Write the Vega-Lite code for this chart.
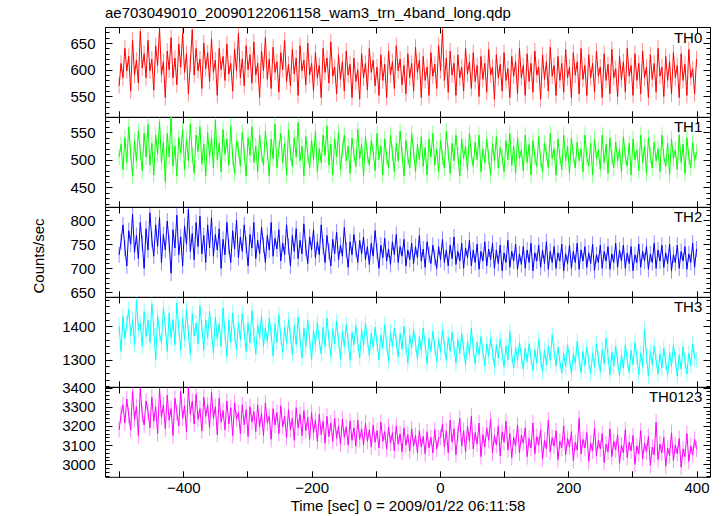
{
"$schema": "https://vega.github.io/schema/vega-lite/v6.json",
"autosize": {"type": "pad"},
"padding": {"left": 31, "top": 6, "right": 0, "bottom": 0},
"background": "white",
"title": {"text": "ae703049010_20090122061158_wam3_trn_4band_long.qdp", "anchor": "start", "frame": "group", "fontSize": 15, "fontWeight": "normal", "color": "black", "font": "Liberation Sans", "baseline": "alphabetic", "offset": -7},
"config": {
  "view": {"stroke": "black", "strokeWidth": 1},
  "font": "Liberation Sans",
  "axis": {"grid": false, "domain": false, "tickColor": "black", "tickWidth": 1, "labelColor": "black", "labelFontSize": 15, "labelFont": "Liberation Sans", "titleFontSize": 15, "titleFontWeight": "normal", "titleColor": "black", "titleFont": "Liberation Sans", "format": "d"}
},
"spacing": 0,
"bounds": "flush",
"data": {"values": [
{"t":-500,"a":570,"b":505,"c":728,"d":1400,"e":3180},
{"t":-497,"a":612,"b":528,"c":755,"d":1325,"e":3260},
{"t":-494,"a":585,"b":482,"c":790,"d":1430,"e":3310},
{"t":-491,"a":640,"b":540,"c":742,"d":1365,"e":3215},
{"t":-488,"a":598,"b":495,"c":705,"d":1410,"e":3340},
{"t":-485,"a":625,"b":560,"c":778,"d":1450,"e":3255},
{"t":-482,"a":560,"b":512,"c":750,"d":1372,"e":3180},
{"t":-479,"a":655,"b":470,"c":812,"d":1420,"e":3380},
{"t":-476,"a":590,"b":535,"c":733,"d":1345,"e":3235},
{"t":-473,"a":618,"b":498,"c":768,"d":1478,"e":3300},
{"t":-470,"a":575,"b":552,"c":720,"d":1390,"e":3150},
{"t":-467,"a":672,"b":515,"c":795,"d":1410,"e":3395},
{"t":-464,"a":603,"b":480,"c":752,"d":1340,"e":3260},
{"t":-461,"a":630,"b":548,"c":700,"d":1445,"e":3205},
{"t":-458,"a":585,"b":505,"c":782,"d":1370,"e":3330},
{"t":-455,"a":655,"b":565,"c":738,"d":1418,"e":3275},
{"t":-452,"a":598,"b":490,"c":815,"d":1352,"e":3190},
{"t":-449,"a":620,"b":530,"c":760,"d":1468,"e":3350},
{"t":-446,"a":562,"b":472,"c":725,"d":1395,"e":3225},
{"t":-443,"a":645,"b":545,"c":790,"d":1300,"e":3300},
{"t":-440,"a":608,"b":510,"c":745,"d":1432,"e":3160},
{"t":-437,"a":678,"b":570,"c":805,"d":1380,"e":3395},
{"t":-434,"a":590,"b":495,"c":712,"d":1350,"e":3245},
{"t":-431,"a":615,"b":532,"c":770,"d":1455,"e":3310},
{"t":-428,"a":548,"b":460,"c":738,"d":1398,"e":3185},
{"t":-425,"a":635,"b":548,"c":798,"d":1325,"e":3360},
{"t":-422,"a":600,"b":505,"c":752,"d":1440,"e":3230},
{"t":-419,"a":660,"b":578,"c":690,"d":1365,"e":3290},
{"t":-416,"a":585,"b":488,"c":780,"d":1420,"e":3150},
{"t":-413,"a":622,"b":525,"c":742,"d":1345,"e":3345},
{"t":-410,"a":572,"b":470,"c":810,"d":1470,"e":3270},
{"t":-407,"a":648,"b":540,"c":728,"d":1392,"e":3200},
{"t":-404,"a":605,"b":512,"c":765,"d":1330,"e":3380},
{"t":-401,"a":668,"b":555,"c":705,"d":1425,"e":3240},
{"t":-398,"a":595,"b":482,"c":788,"d":1360,"e":3305},
{"t":-395,"a":630,"b":538,"c":750,"d":1450,"e":3170},
{"t":-392,"a":555,"b":498,"c":822,"d":1380,"e":3400},
{"t":-389,"a":612,"b":565,"c":735,"d":1315,"e":3260},
{"t":-386,"a":675,"b":508,"c":772,"d":1438,"e":3330},
{"t":-383,"a":590,"b":475,"c":718,"d":1372,"e":3210},
{"t":-380,"a":640,"b":545,"c":795,"d":1410,"e":3365},
{"t":-377,"a":598,"b":515,"c":745,"d":1348,"e":3235},
{"t":-374,"a":620,"b":560,"c":808,"d":1462,"e":3290},
{"t":-371,"a":565,"b":492,"c":730,"d":1395,"e":3175},
{"t":-368,"a":650,"b":528,"c":768,"d":1330,"e":3350},
{"t":-365,"a":602,"b":470,"c":712,"d":1420,"e":3250},
{"t":-362,"a":632,"b":550,"c":790,"d":1365,"e":3310},
{"t":-359,"a":578,"b":505,"c":742,"d":1445,"e":3190},
{"t":-356,"a":658,"b":540,"c":805,"d":1385,"e":3375},
{"t":-353,"a":595,"b":485,"c":725,"d":1320,"e":3240},
{"t":-350,"a":618,"b":572,"c":770,"d":1428,"e":3300},
{"t":-347,"a":552,"b":500,"c":738,"d":1362,"e":3155},
{"t":-344,"a":640,"b":530,"c":782,"d":1408,"e":3345},
{"t":-341,"a":600,"b":478,"c":700,"d":1340,"e":3220},
{"t":-338,"a":625,"b":555,"c":760,"d":1455,"e":3280},
{"t":-335,"a":580,"b":510,"c":728,"d":1378,"e":3180},
{"t":-332,"a":648,"b":538,"c":795,"d":1310,"e":3330},
{"t":-329,"a":592,"b":490,"c":745,"d":1418,"e":3210},
{"t":-326,"a":612,"b":562,"c":712,"d":1352,"e":3295},
{"t":-323,"a":560,"b":505,"c":778,"d":1440,"e":3150},
{"t":-320,"a":638,"b":475,"c":740,"d":1375,"e":3320},
{"t":-317,"a":598,"b":535,"c":800,"d":1330,"e":3235},
{"t":-314,"a":668,"b":518,"c":722,"d":1412,"e":3270},
{"t":-311,"a":585,"b":488,"c":765,"d":1360,"e":3160},
{"t":-308,"a":620,"b":550,"c":735,"d":1438,"e":3310},
{"t":-305,"a":570,"b":512,"c":790,"d":1385,"e":3205},
{"t":-302,"a":645,"b":470,"c":748,"d":1325,"e":3285},
{"t":-299,"a":600,"b":540,"c":705,"d":1410,"e":3145},
{"t":-296,"a":628,"b":508,"c":770,"d":1350,"e":3300},
{"t":-293,"a":575,"b":560,"c":742,"d":1448,"e":3220},
{"t":-290,"a":652,"b":495,"c":795,"d":1372,"e":3275},
{"t":-287,"a":590,"b":525,"c":720,"d":1318,"e":3170},
{"t":-284,"a":612,"b":478,"c":758,"d":1405,"e":3310},
{"t":-281,"a":548,"b":545,"c":730,"d":1365,"e":3195},
{"t":-278,"a":635,"b":510,"c":785,"d":1432,"e":3265},
{"t":-275,"a":598,"b":490,"c":748,"d":1340,"e":3150},
{"t":-272,"a":660,"b":552,"c":712,"d":1395,"e":3320},
{"t":-269,"a":582,"b":515,"c":768,"d":1355,"e":3215},
{"t":-266,"a":620,"b":470,"c":738,"d":1425,"e":3250},
{"t":-263,"a":565,"b":538,"c":795,"d":1378,"e":3130},
{"t":-260,"a":642,"b":502,"c":725,"d":1312,"e":3290},
{"t":-257,"a":595,"b":565,"c":762,"d":1408,"e":3205},
{"t":-254,"a":615,"b":485,"c":740,"d":1352,"e":3270},
{"t":-251,"a":558,"b":520,"c":780,"d":1435,"e":3160},
{"t":-248,"a":632,"b":548,"c":715,"d":1368,"e":3305},
{"t":-245,"a":600,"b":495,"c":752,"d":1322,"e":3195},
{"t":-242,"a":655,"b":530,"c":728,"d":1398,"e":3250},
{"t":-239,"a":578,"b":472,"c":790,"d":1350,"e":3140},
{"t":-236,"a":610,"b":555,"c":745,"d":1420,"e":3285},
{"t":-233,"a":570,"b":512,"c":705,"d":1372,"e":3180},
{"t":-230,"a":638,"b":488,"c":768,"d":1315,"e":3240},
{"t":-227,"a":592,"b":540,"c":735,"d":1402,"e":3125},
{"t":-224,"a":622,"b":505,"c":782,"d":1345,"e":3295},
{"t":-221,"a":552,"b":568,"c":720,"d":1428,"e":3190},
{"t":-218,"a":645,"b":498,"c":758,"d":1362,"e":3260},
{"t":-215,"a":598,"b":525,"c":730,"d":1305,"e":3150},
{"t":-212,"a":618,"b":470,"c":792,"d":1395,"e":3280},
{"t":-209,"a":572,"b":542,"c":742,"d":1340,"e":3175},
{"t":-206,"a":650,"b":510,"c":710,"d":1418,"e":3245},
{"t":-203,"a":590,"b":485,"c":765,"d":1358,"e":3130},
{"t":-200,"a":612,"b":535,"c":738,"d":1300,"e":3270},
{"t":-197,"a":560,"b":500,"c":780,"d":1388,"e":3165},
{"t":-194,"a":632,"b":552,"c":722,"d":1345,"e":3230},
{"t":-191,"a":585,"b":478,"c":755,"d":1412,"e":3120},
{"t":-188,"a":608,"b":520,"c":728,"d":1355,"e":3260},
{"t":-185,"a":548,"b":495,"c":790,"d":1318,"e":3155},
{"t":-182,"a":640,"b":545,"c":745,"d":1398,"e":3225},
{"t":-179,"a":595,"b":508,"c":712,"d":1340,"e":3110},
{"t":-176,"a":622,"b":562,"c":768,"d":1425,"e":3250},
{"t":-173,"a":575,"b":490,"c":735,"d":1362,"e":3145},
{"t":-170,"a":652,"b":528,"c":705,"d":1310,"e":3215},
{"t":-167,"a":588,"b":472,"c":760,"d":1392,"e":3120},
{"t":-164,"a":605,"b":538,"c":730,"d":1348,"e":3240},
{"t":-161,"a":555,"b":505,"c":775,"d":1415,"e":3135},
{"t":-158,"a":628,"b":550,"c":718,"d":1358,"e":3200},
{"t":-155,"a":582,"b":482,"c":748,"d":1302,"e":3105},
{"t":-152,"a":615,"b":518,"c":725,"d":1385,"e":3235},
{"t":-149,"a":560,"b":545,"c":785,"d":1340,"e":3140},
{"t":-146,"a":635,"b":498,"c":738,"d":1405,"e":3195},
{"t":-143,"a":590,"b":525,"c":702,"d":1355,"e":3100},
{"t":-140,"a":610,"b":475,"c":755,"d":1298,"e":3225},
{"t":-137,"a":548,"b":540,"c":728,"d":1382,"e":3125},
{"t":-134,"a":622,"b":510,"c":770,"d":1345,"e":3190},
{"t":-131,"a":578,"b":488,"c":740,"d":1402,"e":3095},
{"t":-128,"a":600,"b":555,"c":712,"d":1350,"e":3230},
{"t":-125,"a":545,"b":502,"c":758,"d":1305,"e":3130},
{"t":-122,"a":630,"b":528,"c":730,"d":1390,"e":3185},
{"t":-119,"a":585,"b":470,"c":765,"d":1342,"e":3100},
{"t":-116,"a":612,"b":542,"c":718,"d":1410,"e":3215},
{"t":-113,"a":562,"b":508,"c":745,"d":1360,"e":3120},
{"t":-110,"a":640,"b":490,"c":708,"d":1312,"e":3180},
{"t":-107,"a":595,"b":535,"c":752,"d":1380,"e":3090},
{"t":-104,"a":618,"b":515,"c":725,"d":1338,"e":3205},
{"t":-101,"a":570,"b":480,"c":778,"d":1398,"e":3115},
{"t":-98,"a":605,"b":548,"c":735,"d":1350,"e":3175},
{"t":-95,"a":552,"b":500,"c":700,"d":1300,"e":3085},
{"t":-92,"a":628,"b":525,"c":748,"d":1375,"e":3220},
{"t":-89,"a":580,"b":472,"c":722,"d":1335,"e":3120},
{"t":-86,"a":610,"b":538,"c":762,"d":1405,"e":3170},
{"t":-83,"a":548,"b":505,"c":715,"d":1348,"e":3080},
{"t":-80,"a":635,"b":485,"c":740,"d":1295,"e":3195},
{"t":-77,"a":590,"b":545,"c":708,"d":1382,"e":3110},
{"t":-74,"a":615,"b":512,"c":755,"d":1340,"e":3165},
{"t":-71,"a":565,"b":478,"c":728,"d":1395,"e":3070},
{"t":-68,"a":645,"b":530,"c":770,"d":1355,"e":3200},
{"t":-65,"a":598,"b":498,"c":712,"d":1308,"e":3105},
{"t":-62,"a":620,"b":552,"c":745,"d":1378,"e":3160},
{"t":-59,"a":572,"b":510,"c":725,"d":1332,"e":3065},
{"t":-56,"a":608,"b":470,"c":760,"d":1400,"e":3190},
{"t":-53,"a":555,"b":535,"c":705,"d":1345,"e":3100},
{"t":-50,"a":630,"b":505,"c":738,"d":1290,"e":3155},
{"t":-47,"a":585,"b":485,"c":718,"d":1372,"e":3070},
{"t":-44,"a":612,"b":548,"c":752,"d":1335,"e":3185},
{"t":-41,"a":560,"b":515,"c":710,"d":1390,"e":3095},
{"t":-38,"a":642,"b":478,"c":745,"d":1348,"e":3150},
{"t":-35,"a":595,"b":528,"c":722,"d":1302,"e":3060},
{"t":-32,"a":618,"b":500,"c":768,"d":1370,"e":3175},
{"t":-29,"a":548,"b":542,"c":715,"d":1328,"e":3090},
{"t":-26,"a":625,"b":488,"c":740,"d":1395,"e":3145},
{"t":-23,"a":580,"b":522,"c":702,"d":1345,"e":3055},
{"t":-20,"a":605,"b":472,"c":755,"d":1288,"e":3170},
{"t":-17,"a":552,"b":538,"c":728,"d":1365,"e":3085},
{"t":-14,"a":632,"b":505,"c":710,"d":1325,"e":3140},
{"t":-11,"a":588,"b":548,"c":748,"d":1385,"e":3060},
{"t":-8,"a":610,"b":490,"c":722,"d":1338,"e":3180},
{"t":-5,"a":565,"b":520,"c":700,"d":1295,"e":3080},
{"t":-2,"a":645,"b":478,"c":745,"d":1362,"e":3135},
{"t":1,"a":598,"b":535,"c":718,"d":1322,"e":3140},
{"t":4,"a":675,"b":505,"c":760,"d":1390,"e":3210},
{"t":7,"a":580,"b":485,"c":712,"d":1340,"e":3090},
{"t":10,"a":622,"b":552,"c":738,"d":1298,"e":3175},
{"t":13,"a":558,"b":512,"c":705,"d":1368,"e":3060},
{"t":16,"a":635,"b":475,"c":748,"d":1325,"e":3230},
{"t":19,"a":590,"b":530,"c":720,"d":1382,"e":3115},
{"t":22,"a":612,"b":498,"c":765,"d":1335,"e":3185},
{"t":25,"a":552,"b":545,"c":708,"d":1290,"e":3050},
{"t":28,"a":628,"b":508,"c":735,"d":1360,"e":3160},
{"t":31,"a":585,"b":470,"c":715,"d":1318,"e":3240},
{"t":34,"a":605,"b":538,"c":752,"d":1378,"e":3095},
{"t":37,"a":560,"b":502,"c":700,"d":1332,"e":3175},
{"t":40,"a":640,"b":525,"c":742,"d":1285,"e":3065},
{"t":43,"a":592,"b":480,"c":722,"d":1355,"e":3200},
{"t":46,"a":615,"b":548,"c":758,"d":1318,"e":3120},
{"t":49,"a":565,"b":510,"c":705,"d":1395,"e":3250},
{"t":52,"a":632,"b":488,"c":738,"d":1330,"e":3080},
{"t":55,"a":578,"b":532,"c":712,"d":1288,"e":3165},
{"t":58,"a":608,"b":500,"c":750,"d":1352,"e":3105},
{"t":61,"a":550,"b":545,"c":698,"d":1315,"e":3215},
{"t":64,"a":625,"b":478,"c":735,"d":1370,"e":3040},
{"t":67,"a":582,"b":520,"c":715,"d":1325,"e":3155},
{"t":70,"a":612,"b":495,"c":755,"d":1282,"e":3090},
{"t":73,"a":558,"b":538,"c":705,"d":1348,"e":3190},
{"t":76,"a":638,"b":505,"c":740,"d":1310,"e":3125},
{"t":79,"a":590,"b":472,"c":718,"d":1365,"e":3235},
{"t":82,"a":605,"b":530,"c":752,"d":1322,"e":3060},
{"t":85,"a":545,"b":498,"c":700,"d":1280,"e":3150},
{"t":88,"a":628,"b":542,"c":738,"d":1345,"e":3100},
{"t":91,"a":585,"b":485,"c":710,"d":1305,"e":3200},
{"t":94,"a":610,"b":522,"c":748,"d":1362,"e":3045},
{"t":97,"a":560,"b":505,"c":695,"d":1318,"e":3170},
{"t":100,"a":632,"b":478,"c":732,"d":1278,"e":3115},
{"t":103,"a":580,"b":535,"c":712,"d":1342,"e":3225},
{"t":106,"a":602,"b":500,"c":758,"d":1300,"e":3075},
{"t":109,"a":548,"b":548,"c":702,"d":1385,"e":3160},
{"t":112,"a":625,"b":490,"c":735,"d":1315,"e":3035},
{"t":115,"a":588,"b":525,"c":715,"d":1275,"e":3140},
{"t":118,"a":615,"b":475,"c":750,"d":1338,"e":3095},
{"t":121,"a":555,"b":540,"c":698,"d":1298,"e":3205},
{"t":124,"a":640,"b":502,"c":730,"d":1352,"e":3060},
{"t":127,"a":585,"b":518,"c":708,"d":1310,"e":3150},
{"t":130,"a":608,"b":480,"c":745,"d":1272,"e":3110},
{"t":133,"a":552,"b":545,"c":700,"d":1335,"e":3190},
{"t":136,"a":630,"b":495,"c":738,"d":1295,"e":3040},
{"t":139,"a":578,"b":528,"c":712,"d":1348,"e":3135},
{"t":142,"a":612,"b":472,"c":752,"d":1305,"e":3085},
{"t":145,"a":558,"b":535,"c":695,"d":1268,"e":3215},
{"t":148,"a":635,"b":505,"c":732,"d":1330,"e":3055},
{"t":151,"a":590,"b":488,"c":715,"d":1290,"e":3145},
{"t":154,"a":605,"b":542,"c":748,"d":1362,"e":3100},
{"t":157,"a":545,"b":500,"c":702,"d":1302,"e":3180},
{"t":160,"a":628,"b":478,"c":738,"d":1265,"e":3030},
{"t":163,"a":582,"b":530,"c":710,"d":1328,"e":3125},
{"t":166,"a":615,"b":512,"c":755,"d":1285,"e":3080},
{"t":169,"a":560,"b":485,"c":698,"d":1340,"e":3230},
{"t":172,"a":642,"b":548,"c":735,"d":1298,"e":3065},
{"t":175,"a":588,"b":502,"c":712,"d":1375,"e":3140},
{"t":178,"a":608,"b":520,"c":745,"d":1325,"e":3095},
{"t":181,"a":552,"b":472,"c":700,"d":1282,"e":3175},
{"t":184,"a":625,"b":538,"c":732,"d":1338,"e":3025},
{"t":187,"a":580,"b":505,"c":715,"d":1295,"e":3120},
{"t":190,"a":612,"b":482,"c":750,"d":1260,"e":3085},
{"t":193,"a":558,"b":545,"c":695,"d":1320,"e":3200},
{"t":196,"a":638,"b":498,"c":730,"d":1278,"e":3050},
{"t":199,"a":585,"b":525,"c":710,"d":1345,"e":3135},
{"t":202,"a":605,"b":475,"c":748,"d":1305,"e":3090},
{"t":205,"a":548,"b":540,"c":700,"d":1258,"e":3170},
{"t":208,"a":632,"b":508,"c":735,"d":1318,"e":3020},
{"t":211,"a":590,"b":485,"c":712,"d":1290,"e":3115},
{"t":214,"a":615,"b":532,"c":752,"d":1355,"e":3075},
{"t":217,"a":555,"b":498,"c":698,"d":1300,"e":3240},
{"t":220,"a":640,"b":520,"c":738,"d":1262,"e":3055},
{"t":223,"a":582,"b":478,"c":715,"d":1325,"e":3130},
{"t":226,"a":608,"b":545,"c":745,"d":1282,"e":3085},
{"t":229,"a":552,"b":505,"c":702,"d":1338,"e":3165},
{"t":232,"a":628,"b":488,"c":732,"d":1295,"e":3015},
{"t":235,"a":585,"b":530,"c":710,"d":1258,"e":3110},
{"t":238,"a":612,"b":472,"c":750,"d":1320,"e":3070},
{"t":241,"a":558,"b":538,"c":695,"d":1278,"e":3190},
{"t":244,"a":635,"b":502,"c":728,"d":1348,"e":3045},
{"t":247,"a":588,"b":518,"c":712,"d":1302,"e":3125},
{"t":250,"a":605,"b":482,"c":748,"d":1265,"e":3080},
{"t":253,"a":548,"b":545,"c":700,"d":1330,"e":3160},
{"t":256,"a":630,"b":495,"c":735,"d":1288,"e":3010},
{"t":259,"a":580,"b":528,"c":715,"d":1365,"e":3105},
{"t":262,"a":610,"b":475,"c":745,"d":1312,"e":3065},
{"t":265,"a":555,"b":540,"c":698,"d":1255,"e":3185},
{"t":268,"a":638,"b":505,"c":730,"d":1322,"e":3040},
{"t":271,"a":585,"b":485,"c":712,"d":1280,"e":3120},
{"t":274,"a":602,"b":532,"c":752,"d":1340,"e":3075},
{"t":277,"a":550,"b":498,"c":702,"d":1295,"e":3155},
{"t":280,"a":625,"b":520,"c":738,"d":1252,"e":3005},
{"t":283,"a":582,"b":478,"c":715,"d":1315,"e":3100},
{"t":286,"a":615,"b":542,"c":748,"d":1275,"e":3060},
{"t":289,"a":558,"b":505,"c":700,"d":1345,"e":3180},
{"t":292,"a":640,"b":488,"c":732,"d":1300,"e":3035},
{"t":295,"a":588,"b":530,"c":710,"d":1262,"e":3115},
{"t":298,"a":608,"b":472,"c":745,"d":1328,"e":3070},
{"t":301,"a":552,"b":538,"c":695,"d":1285,"e":3150},
{"t":304,"a":630,"b":500,"c":728,"d":1352,"e":3000},
{"t":307,"a":580,"b":518,"c":712,"d":1308,"e":3095},
{"t":310,"a":612,"b":480,"c":750,"d":1255,"e":3055},
{"t":313,"a":555,"b":545,"c":702,"d":1320,"e":3175},
{"t":316,"a":635,"b":495,"c":735,"d":1280,"e":3030},
{"t":319,"a":585,"b":525,"c":715,"d":1390,"e":3110},
{"t":322,"a":605,"b":475,"c":745,"d":1312,"e":3065},
{"t":325,"a":548,"b":540,"c":698,"d":1250,"e":3145},
{"t":328,"a":628,"b":508,"c":730,"d":1325,"e":2995},
{"t":331,"a":582,"b":485,"c":712,"d":1285,"e":3090},
{"t":334,"a":612,"b":532,"c":752,"d":1342,"e":3050},
{"t":337,"a":558,"b":498,"c":700,"d":1298,"e":3220},
{"t":340,"a":640,"b":520,"c":738,"d":1258,"e":3025},
{"t":343,"a":588,"b":478,"c":715,"d":1318,"e":3105},
{"t":346,"a":605,"b":545,"c":748,"d":1275,"e":3060},
{"t":349,"a":550,"b":505,"c":702,"d":1335,"e":3140},
{"t":352,"a":625,"b":488,"c":732,"d":1292,"e":2990},
{"t":355,"a":580,"b":530,"c":710,"d":1255,"e":3085},
{"t":358,"a":615,"b":472,"c":750,"d":1322,"e":3045},
{"t":361,"a":555,"b":538,"c":695,"d":1280,"e":3165},
{"t":364,"a":632,"b":502,"c":728,"d":1345,"e":3020},
{"t":367,"a":585,"b":518,"c":712,"d":1300,"e":3100},
{"t":370,"a":608,"b":482,"c":748,"d":1250,"e":3055},
{"t":373,"a":548,"b":545,"c":700,"d":1315,"e":3135},
{"t":376,"a":630,"b":495,"c":735,"d":1272,"e":2985},
{"t":379,"a":580,"b":528,"c":715,"d":1338,"e":3080},
{"t":382,"a":610,"b":475,"c":745,"d":1295,"e":3040},
{"t":385,"a":552,"b":540,"c":698,"d":1258,"e":3160},
{"t":388,"a":638,"b":505,"c":730,"d":1320,"e":3015},
{"t":391,"a":585,"b":485,"c":712,"d":1282,"e":3095},
{"t":394,"a":602,"b":532,"c":752,"d":1348,"e":3050},
{"t":397,"a":555,"b":498,"c":702,"d":1305,"e":3130},
{"t":400,"a":620,"b":515,"c":740,"d":1300,"e":3080}
]},
"vconcat": [
{
  "width": 605, "height": 89.8,
  "resolve": {"axis": {"x": "independent", "y": "independent"}},
  "layer": [
    {"mark": {"type": "rule", "color": "#ff0000", "opacity": 0.45, "strokeWidth": 1, "yOffset": -8, "y2Offset": 8, "clip": true},
     "encoding": {
       "x": {"field": "t", "type": "quantitative", "scale": {"domain": [-522, 421], "nice": false, "zero": false}, "axis": null},
       "y": {"field": "a", "type": "quantitative", "scale": {"domain": [512, 680], "nice": false, "zero": false}, "axis": null},
       "y2": {"field": "a"}}},
    {"mark": {"type": "line", "color": "#ff0000", "strokeWidth": 1, "clip": true},
     "encoding": {
       "x": {"field": "t", "type": "quantitative", "scale": {"domain": [-522, 421], "nice": false, "zero": false}, "axis": null},
       "y": {"field": "a", "type": "quantitative", "scale": {"domain": [512, 680], "nice": false, "zero": false}, "axis": {"orient": "left", "values": [550, 600, 650], "ticks": false, "labelPadding": 10, "title": null}}}},
    {"data": {"values": [{}]}, "mark": {"type": "point", "opacity": 0},
     "encoding": {
       "x": {"datum": 0, "type": "quantitative", "scale": {"domain": [-522, 421], "nice": false, "zero": false}, "axis": {"orient": "bottom", "labels": false, "tickSize": -6, "values": [-500, -400, -300, -200, -100, 0, 100, 200, 300, 400], "title": null}},
       "y": {"datum": 600, "type": "quantitative", "scale": {"domain": [512, 680], "nice": false, "zero": false}, "axis": {"orient": "left", "labels": false, "tickSize": -7, "values": [550, 600, 650], "title": null}}}},
    {"data": {"values": [{}]}, "mark": {"type": "point", "opacity": 0},
     "encoding": {
       "x": {"datum": 0, "type": "quantitative", "scale": {"domain": [-522, 421], "nice": false, "zero": false}, "axis": {"orient": "top", "labels": false, "tickSize": -6, "values": [-500, -400, -300, -200, -100, 0, 100, 200, 300, 400], "title": null}},
       "y": {"datum": 600, "type": "quantitative", "scale": {"domain": [512, 680], "nice": false, "zero": false}, "axis": {"orient": "left", "labels": false, "tickSize": -4, "values": [520, 530, 540, 560, 570, 580, 590, 610, 620, 630, 640, 660, 670, 680], "title": null}}}},
    {"data": {"values": [{}]}, "mark": {"type": "point", "opacity": 0},
     "encoding": {
       "y": {"datum": 600, "type": "quantitative", "scale": {"domain": [512, 680], "nice": false, "zero": false}, "axis": {"orient": "right", "labels": false, "tickSize": -7, "values": [550, 600, 650], "title": null}}}},
    {"data": {"values": [{}]}, "mark": {"type": "point", "opacity": 0},
     "encoding": {
       "y": {"datum": 600, "type": "quantitative", "scale": {"domain": [512, 680], "nice": false, "zero": false}, "axis": {"orient": "right", "labels": false, "tickSize": -4, "values": [520, 530, 540, 560, 570, 580, 590, 610, 620, 630, 640, 660, 670, 680], "title": null}}}},
    {"data": {"values": [{}]}, "mark": {"type": "text", "align": "right", "baseline": "alphabetic", "fontSize": 15, "font": "Liberation Sans", "color": "black"},
     "encoding": {
       "x": {"datum": 409, "type": "quantitative", "scale": {"domain": [-522, 421], "nice": false, "zero": false}, "axis": null},
       "y": {"datum": 651, "type": "quantitative", "scale": {"domain": [512, 680], "nice": false, "zero": false}, "axis": null},
       "text": {"value": "TH0"}}}
  ]
},
{
  "width": 605, "height": 89.8,
  "resolve": {"axis": {"x": "independent", "y": "independent"}},
  "layer": [
    {"mark": {"type": "rule", "color": "#00ff00", "opacity": 0.45, "strokeWidth": 1, "yOffset": -8, "y2Offset": 8, "clip": true},
     "encoding": {
       "x": {"field": "t", "type": "quantitative", "scale": {"domain": [-522, 421], "nice": false, "zero": false}, "axis": null},
       "y": {"field": "b", "type": "quantitative", "scale": {"domain": [414, 578], "nice": false, "zero": false}, "axis": null},
       "y2": {"field": "b"}}},
    {"mark": {"type": "line", "color": "#00ff00", "strokeWidth": 1, "clip": true},
     "encoding": {
       "x": {"field": "t", "type": "quantitative", "scale": {"domain": [-522, 421], "nice": false, "zero": false}, "axis": null},
       "y": {"field": "b", "type": "quantitative", "scale": {"domain": [414, 578], "nice": false, "zero": false}, "axis": {"orient": "left", "values": [450, 500, 550], "ticks": false, "labelPadding": 10, "title": null}}}},
    {"data": {"values": [{}]}, "mark": {"type": "point", "opacity": 0},
     "encoding": {
       "x": {"datum": 0, "type": "quantitative", "scale": {"domain": [-522, 421], "nice": false, "zero": false}, "axis": {"orient": "bottom", "labels": false, "tickSize": -6, "values": [-500, -400, -300, -200, -100, 0, 100, 200, 300, 400], "title": null}},
       "y": {"datum": 500, "type": "quantitative", "scale": {"domain": [414, 578], "nice": false, "zero": false}, "axis": {"orient": "left", "labels": false, "tickSize": -7, "values": [450, 500, 550], "title": null}}}},
    {"data": {"values": [{}]}, "mark": {"type": "point", "opacity": 0},
     "encoding": {
       "x": {"datum": 0, "type": "quantitative", "scale": {"domain": [-522, 421], "nice": false, "zero": false}, "axis": {"orient": "top", "labels": false, "tickSize": -6, "values": [-500, -400, -300, -200, -100, 0, 100, 200, 300, 400], "title": null}},
       "y": {"datum": 500, "type": "quantitative", "scale": {"domain": [414, 578], "nice": false, "zero": false}, "axis": {"orient": "left", "labels": false, "tickSize": -4, "values": [420, 430, 440, 460, 470, 480, 490, 510, 520, 530, 540, 560, 570], "title": null}}}},
    {"data": {"values": [{}]}, "mark": {"type": "point", "opacity": 0},
     "encoding": {
       "y": {"datum": 500, "type": "quantitative", "scale": {"domain": [414, 578], "nice": false, "zero": false}, "axis": {"orient": "right", "labels": false, "tickSize": -7, "values": [450, 500, 550], "title": null}}}},
    {"data": {"values": [{}]}, "mark": {"type": "point", "opacity": 0},
     "encoding": {
       "y": {"datum": 500, "type": "quantitative", "scale": {"domain": [414, 578], "nice": false, "zero": false}, "axis": {"orient": "right", "labels": false, "tickSize": -4, "values": [420, 430, 440, 460, 470, 480, 490, 510, 520, 530, 540, 560, 570], "title": null}}}},
    {"data": {"values": [{}]}, "mark": {"type": "text", "align": "right", "baseline": "alphabetic", "fontSize": 15, "font": "Liberation Sans", "color": "black"},
     "encoding": {
       "x": {"datum": 409, "type": "quantitative", "scale": {"domain": [-522, 421], "nice": false, "zero": false}, "axis": null},
       "y": {"datum": 550, "type": "quantitative", "scale": {"domain": [414, 578], "nice": false, "zero": false}, "axis": null},
       "text": {"value": "TH1"}}}
  ]
},
{
  "width": 605, "height": 89.8,
  "resolve": {"axis": {"x": "independent", "y": "independent"}},
  "layer": [
    {"mark": {"type": "rule", "color": "#0000ff", "opacity": 0.45, "strokeWidth": 1, "yOffset": -8, "y2Offset": 8, "clip": true},
     "encoding": {
       "x": {"field": "t", "type": "quantitative", "scale": {"domain": [-522, 421], "nice": false, "zero": false}, "axis": null},
       "y": {"field": "c", "type": "quantitative", "scale": {"domain": [641, 827], "nice": false, "zero": false}, "axis": null},
       "y2": {"field": "c"}}},
    {"mark": {"type": "line", "color": "#0000ff", "strokeWidth": 1, "clip": true},
     "encoding": {
       "x": {"field": "t", "type": "quantitative", "scale": {"domain": [-522, 421], "nice": false, "zero": false}, "axis": null},
       "y": {"field": "c", "type": "quantitative", "scale": {"domain": [641, 827], "nice": false, "zero": false}, "axis": {"orient": "left", "values": [650, 700, 750, 800], "ticks": false, "labelPadding": 10, "title": "Counts/sec", "titlePadding": 23, "titleY": 48.5}}}},
    {"data": {"values": [{}]}, "mark": {"type": "point", "opacity": 0},
     "encoding": {
       "x": {"datum": 0, "type": "quantitative", "scale": {"domain": [-522, 421], "nice": false, "zero": false}, "axis": {"orient": "bottom", "labels": false, "tickSize": -6, "values": [-500, -400, -300, -200, -100, 0, 100, 200, 300, 400], "title": null}},
       "y": {"datum": 750, "type": "quantitative", "scale": {"domain": [641, 827], "nice": false, "zero": false}, "axis": {"orient": "left", "labels": false, "tickSize": -7, "values": [650, 700, 750, 800], "title": null}}}},
    {"data": {"values": [{}]}, "mark": {"type": "point", "opacity": 0},
     "encoding": {
       "x": {"datum": 0, "type": "quantitative", "scale": {"domain": [-522, 421], "nice": false, "zero": false}, "axis": {"orient": "top", "labels": false, "tickSize": -6, "values": [-500, -400, -300, -200, -100, 0, 100, 200, 300, 400], "title": null}},
       "y": {"datum": 750, "type": "quantitative", "scale": {"domain": [641, 827], "nice": false, "zero": false}, "axis": {"orient": "left", "labels": false, "tickSize": -4, "values": [660, 670, 680, 690, 710, 720, 730, 740, 760, 770, 780, 790, 810, 820], "title": null}}}},
    {"data": {"values": [{}]}, "mark": {"type": "point", "opacity": 0},
     "encoding": {
       "y": {"datum": 750, "type": "quantitative", "scale": {"domain": [641, 827], "nice": false, "zero": false}, "axis": {"orient": "right", "labels": false, "tickSize": -7, "values": [650, 700, 750, 800], "title": null}}}},
    {"data": {"values": [{}]}, "mark": {"type": "point", "opacity": 0},
     "encoding": {
       "y": {"datum": 750, "type": "quantitative", "scale": {"domain": [641, 827], "nice": false, "zero": false}, "axis": {"orient": "right", "labels": false, "tickSize": -4, "values": [660, 670, 680, 690, 710, 720, 730, 740, 760, 770, 780, 790, 810, 820], "title": null}}}},
    {"data": {"values": [{}]}, "mark": {"type": "text", "align": "right", "baseline": "alphabetic", "fontSize": 15, "font": "Liberation Sans", "color": "black"},
     "encoding": {
       "x": {"datum": 409, "type": "quantitative", "scale": {"domain": [-522, 421], "nice": false, "zero": false}, "axis": null},
       "y": {"datum": 795, "type": "quantitative", "scale": {"domain": [641, 827], "nice": false, "zero": false}, "axis": null},
       "text": {"value": "TH2"}}}
  ]
},
{
  "width": 605, "height": 89.8,
  "resolve": {"axis": {"x": "independent", "y": "independent"}},
  "layer": [
    {"mark": {"type": "rule", "color": "#00ffff", "opacity": 0.45, "strokeWidth": 1, "yOffset": -8, "y2Offset": 8, "clip": true},
     "encoding": {
       "x": {"field": "t", "type": "quantitative", "scale": {"domain": [-522, 421], "nice": false, "zero": false}, "axis": null},
       "y": {"field": "d", "type": "quantitative", "scale": {"domain": [1219, 1488], "nice": false, "zero": false}, "axis": null},
       "y2": {"field": "d"}}},
    {"mark": {"type": "line", "color": "#00ffff", "strokeWidth": 1, "clip": true},
     "encoding": {
       "x": {"field": "t", "type": "quantitative", "scale": {"domain": [-522, 421], "nice": false, "zero": false}, "axis": null},
       "y": {"field": "d", "type": "quantitative", "scale": {"domain": [1219, 1488], "nice": false, "zero": false}, "axis": {"orient": "left", "values": [1300, 1400], "ticks": false, "labelPadding": 10, "title": null}}}},
    {"data": {"values": [{}]}, "mark": {"type": "point", "opacity": 0},
     "encoding": {
       "x": {"datum": 0, "type": "quantitative", "scale": {"domain": [-522, 421], "nice": false, "zero": false}, "axis": {"orient": "bottom", "labels": false, "tickSize": -6, "values": [-500, -400, -300, -200, -100, 0, 100, 200, 300, 400], "title": null}},
       "y": {"datum": 1350, "type": "quantitative", "scale": {"domain": [1219, 1488], "nice": false, "zero": false}, "axis": {"orient": "left", "labels": false, "tickSize": -7, "values": [1300, 1400], "title": null}}}},
    {"data": {"values": [{}]}, "mark": {"type": "point", "opacity": 0},
     "encoding": {
       "x": {"datum": 0, "type": "quantitative", "scale": {"domain": [-522, 421], "nice": false, "zero": false}, "axis": {"orient": "top", "labels": false, "tickSize": -6, "values": [-500, -400, -300, -200, -100, 0, 100, 200, 300, 400], "title": null}},
       "y": {"datum": 1350, "type": "quantitative", "scale": {"domain": [1219, 1488], "nice": false, "zero": false}, "axis": {"orient": "left", "labels": false, "tickSize": -4, "values": [1220, 1240, 1260, 1280, 1320, 1340, 1360, 1380, 1420, 1440, 1460, 1480], "title": null}}}},
    {"data": {"values": [{}]}, "mark": {"type": "point", "opacity": 0},
     "encoding": {
       "y": {"datum": 1350, "type": "quantitative", "scale": {"domain": [1219, 1488], "nice": false, "zero": false}, "axis": {"orient": "right", "labels": false, "tickSize": -7, "values": [1300, 1400], "title": null}}}},
    {"data": {"values": [{}]}, "mark": {"type": "point", "opacity": 0},
     "encoding": {
       "y": {"datum": 1350, "type": "quantitative", "scale": {"domain": [1219, 1488], "nice": false, "zero": false}, "axis": {"orient": "right", "labels": false, "tickSize": -4, "values": [1220, 1240, 1260, 1280, 1320, 1340, 1360, 1380, 1420, 1440, 1460, 1480], "title": null}}}},
    {"data": {"values": [{}]}, "mark": {"type": "text", "align": "right", "baseline": "alphabetic", "fontSize": 15, "font": "Liberation Sans", "color": "black"},
     "encoding": {
       "x": {"datum": 409, "type": "quantitative", "scale": {"domain": [-522, 421], "nice": false, "zero": false}, "axis": null},
       "y": {"datum": 1442, "type": "quantitative", "scale": {"domain": [1219, 1488], "nice": false, "zero": false}, "axis": null},
       "text": {"value": "TH3"}}}
  ]
},
{
  "width": 605, "height": 89.8,
  "resolve": {"axis": {"x": "independent", "y": "independent"}},
  "layer": [
    {"mark": {"type": "rule", "color": "#ff00ff", "opacity": 0.45, "strokeWidth": 1, "yOffset": -8, "y2Offset": 8, "clip": true},
     "encoding": {
       "x": {"field": "t", "type": "quantitative", "scale": {"domain": [-522, 421], "nice": false, "zero": false}, "axis": null},
       "y": {"field": "e", "type": "quantitative", "scale": {"domain": [2935, 3403], "nice": false, "zero": false}, "axis": null},
       "y2": {"field": "e"}}},
    {"mark": {"type": "line", "color": "#ff00ff", "strokeWidth": 1, "clip": true},
     "encoding": {
       "x": {"field": "t", "type": "quantitative", "scale": {"domain": [-522, 421], "nice": false, "zero": false}, "axis": {"orient": "bottom", "values": [-400, -200, 0, 200, 400], "ticks": false, "labelPadding": 4, "title": "Time [sec] 0 = 2009/01/22 06:11:58", "titlePadding": 3}},
       "y": {"field": "e", "type": "quantitative", "scale": {"domain": [2935, 3403], "nice": false, "zero": false}, "axis": {"orient": "left", "values": [3000, 3100, 3200, 3300, 3400], "ticks": false, "labelPadding": 10, "title": null}}}},
    {"data": {"values": [{}]}, "mark": {"type": "point", "opacity": 0},
     "encoding": {
       "x": {"datum": 0, "type": "quantitative", "scale": {"domain": [-522, 421], "nice": false, "zero": false}, "axis": {"orient": "bottom", "labels": false, "tickSize": -6, "values": [-500, -400, -300, -200, -100, 0, 100, 200, 300, 400], "title": null}},
       "y": {"datum": 3200, "type": "quantitative", "scale": {"domain": [2935, 3403], "nice": false, "zero": false}, "axis": {"orient": "left", "labels": false, "tickSize": -7, "values": [3000, 3100, 3200, 3300, 3400], "title": null}}}},
    {"data": {"values": [{}]}, "mark": {"type": "point", "opacity": 0},
     "encoding": {
       "x": {"datum": 0, "type": "quantitative", "scale": {"domain": [-522, 421], "nice": false, "zero": false}, "axis": {"orient": "top", "labels": false, "tickSize": -6, "values": [-500, -400, -300, -200, -100, 0, 100, 200, 300, 400], "title": null}},
       "y": {"datum": 3200, "type": "quantitative", "scale": {"domain": [2935, 3403], "nice": false, "zero": false}, "axis": {"orient": "left", "labels": false, "tickSize": -4, "values": [2940, 2960, 2980, 3020, 3040, 3060, 3080, 3120, 3140, 3160, 3180, 3220, 3240, 3260, 3280, 3320, 3340, 3360, 3380], "title": null}}}},
    {"data": {"values": [{}]}, "mark": {"type": "point", "opacity": 0},
     "encoding": {
       "y": {"datum": 3200, "type": "quantitative", "scale": {"domain": [2935, 3403], "nice": false, "zero": false}, "axis": {"orient": "right", "labels": false, "tickSize": -7, "values": [3000, 3100, 3200, 3300, 3400], "title": null}}}},
    {"data": {"values": [{}]}, "mark": {"type": "point", "opacity": 0},
     "encoding": {
       "y": {"datum": 3200, "type": "quantitative", "scale": {"domain": [2935, 3403], "nice": false, "zero": false}, "axis": {"orient": "right", "labels": false, "tickSize": -4, "values": [2940, 2960, 2980, 3020, 3040, 3060, 3080, 3120, 3140, 3160, 3180, 3220, 3240, 3260, 3280, 3320, 3340, 3360, 3380], "title": null}}}},
    {"data": {"values": [{}]}, "mark": {"type": "text", "align": "right", "baseline": "alphabetic", "fontSize": 15, "font": "Liberation Sans", "color": "black"},
     "encoding": {
       "x": {"datum": 409, "type": "quantitative", "scale": {"domain": [-522, 421], "nice": false, "zero": false}, "axis": null},
       "y": {"datum": 3327, "type": "quantitative", "scale": {"domain": [2935, 3403], "nice": false, "zero": false}, "axis": null},
       "text": {"value": "TH0123"}}}
  ]
}
]
}
